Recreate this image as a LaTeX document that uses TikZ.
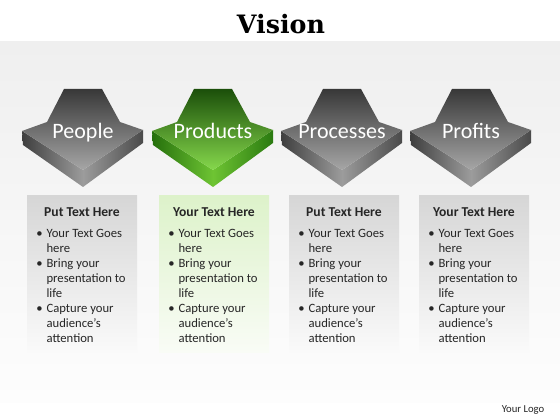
\documentclass[tikz,border=0pt]{standalone}
\usepackage{fontspec}
\setmainfont{Carlito}
\newfontfamily\titlefont{DejaVu Serif}
\definecolor{bgtop}{HTML}{EFEFEF}
\definecolor{bgbot}{HTML}{FDFDFD}
\definecolor{gA}{HTML}{383838}
\definecolor{gB}{HTML}{A6A6A6}
\definecolor{gC}{HTML}{3E3E3E}
\definecolor{gD}{HTML}{9C9C9C}
\definecolor{gE}{HTML}{4A4A4A}
\definecolor{nA}{HTML}{1B4F0A}
\definecolor{nB}{HTML}{86D84C}
\definecolor{nC}{HTML}{256F0C}
\definecolor{nD}{HTML}{6EC433}
\definecolor{nE}{HTML}{2A7A10}
\definecolor{gboxT}{HTML}{D6D6D6}
\definecolor{gboxB}{HTML}{FAFAFA}
\definecolor{nboxT}{HTML}{DDF2CA}
\definecolor{nboxB}{HTML}{F9FCF6}
\definecolor{txt}{HTML}{262626}
\tikzset{
  lbl/.style={text=white,font=\fontsize{16.5}{18}\selectfont,inner sep=0pt,anchor=base},
  headtxt/.style={text=txt,font=\bfseries\fontsize{10.2}{12}\selectfont,inner sep=0pt,anchor=base},
  listtxt/.style={text=txt,font=\fontsize{9.5}{11.25}\selectfont,inner sep=0pt,anchor=base west},
}
\begin{document}
\begin{tikzpicture}[x=0.75pt,y=-0.75pt]
\useasboundingbox (0,0) rectangle (560,420);
\fill[white] (0,0) rectangle (560,420);
\shade[top color=bgtop,bottom color=bgbot] (0,42) rectangle (560,402);
\node[font=\titlefont\bfseries\fontsize{19}{22}\selectfont,anchor=base,inner sep=0pt] (title) at (281,34) {Vision};
% arrows
\foreach \cx/\p/\t/\i in {83/g/People/1,213/n/Products/2,342/g/Processes/3,471/g/Profits/4}{
  \shade[left color=\p C,right color=\p D] (\cx-61,131) -- (\cx,170) -- (\cx,187) -- (\cx-60,145) -- cycle;
  \shade[left color=\p D,right color=\p E] (\cx+60,130) -- (\cx,170) -- (\cx,187) -- (\cx+60,143) -- cycle;
  \shade[top color=\p A,bottom color=\p B] (\cx-19,89) -- (\cx+19,89) -- (\cx+37,122) -- (\cx+60,130) -- (\cx,170) -- (\cx-61,131) -- (\cx-36,122) -- cycle;
  \node[lbl] (lab\i) at (\cx,139) {\t};
}
% boxes
\foreach \bx/\p/\h/\i in {82/g/Put Text Here/1,214/n/Your Text Here/2,344/g/Put Text Here/3,474/g/Your Text Here/4}{
  \shade[top color=\p boxT,bottom color=\p boxB] (\bx-55,196) rectangle (\bx+55,352);
  \node[headtxt] (head\i) at (\bx,217) {\h};
  \node[listtxt] (list\i) at (\bx-46,238) {\begin{tabular}[t]{@{}l@{\hspace{3pt}}l@{}}
\textbullet & Your Text Goes\\
 & here\\
\textbullet & Bring your\\
 & presentation to\\
 & life\\
\textbullet & Capture your\\
 & audience’s\\
 & attention
\end{tabular}};
}
\node[text=txt,font=\fontsize{8}{10}\selectfont,anchor=base,inner sep=0pt] (logo) at (523,412) {Your Logo};
\end{tikzpicture}
\end{document}
